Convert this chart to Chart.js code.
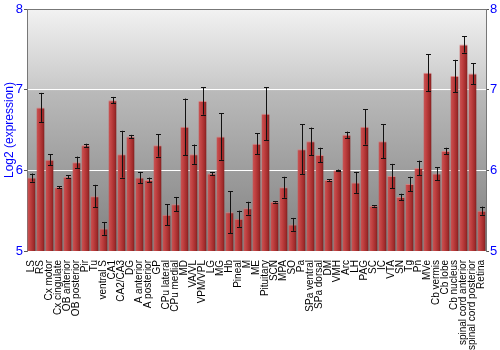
<!DOCTYPE html>
<html><head><meta charset="utf-8">
<script src="https://cdn.jsdelivr.net/npm/chart.js@4"></script>
<style>html,body{margin:0;padding:0;background:#fff}</style>
</head><body>
<canvas id="c" width="500" height="350"></canvas>
<script>
const categories = ["LS","RS","Cx motor","Cx cingulate","OB anterior","OB posterior","Pir","Tu","ventral S","CA1","CA2/CA3","DG","A anterior","A posterior","GP","CPu lateral","CPu medial","MD","VA/VL","VPM/VPL","LG","MG","Hb","Pineal","M","ME","Pituitary","SCN","MPA","SO","Pa","SPa ventral","SPa dorsal","DM","VMH","Arc","LH","PAG","SC","IC","VTA","SN","Tg","Pn","MVe","Cb vermis","Cb lobe","Cb nucleus","spinal cord anterior","spinal cord posterior","Retina"];
const values = [5.91,6.78,6.13,5.79,5.92,6.10,6.31,5.68,5.28,6.87,6.20,6.42,5.91,5.88,6.31,5.45,5.58,6.54,6.20,6.86,5.96,6.42,5.48,5.40,5.53,6.33,6.70,5.61,5.79,5.33,6.26,6.36,6.19,5.88,6.00,6.44,5.85,6.54,5.56,6.36,5.93,5.67,5.83,6.03,7.21,5.96,6.24,7.17,7.56,7.20,5.50];
const errors = [0.05,0.18,0.07,0.01,0.02,0.07,0.02,0.14,0.08,0.04,0.29,0.02,0.07,0.03,0.14,0.13,0.09,0.35,0.12,0.17,0.02,0.29,0.26,0.10,0.08,0.13,0.33,0.01,0.13,0.08,0.31,0.17,0.09,0.01,0.01,0.04,0.13,0.22,0.01,0.21,0.15,0.04,0.09,0.09,0.23,0.08,0.04,0.20,0.10,0.13,0.05];
const yMin = 5, yMax = 8;
const yTicks = [5,6,7,8];

const bgPlugin = {
  id:'bg',
  beforeDraw(chart){
    const {ctx, chartArea:a} = chart;
    if(!a) return;
    const y = chart.scales.y;
    const y7 = (y.getPixelForValue(7)-a.top)/(a.bottom-a.top);
    const g = ctx.createLinearGradient(0,a.top,0,a.bottom);
    g.addColorStop(0,'#f2f2f2');
    g.addColorStop(y7,'#c8c8c8');
    g.addColorStop(Math.min(1,y7+0.005),'#bababa');
    g.addColorStop(1,'#808080');
    ctx.save();
    ctx.fillStyle = g;
    ctx.fillRect(a.left,a.top,a.right-a.left,a.bottom-a.top);
    ctx.restore();
  },
  afterDraw(chart){
    const {ctx, chartArea:a} = chart;
    ctx.save();
    ctx.strokeStyle='#777';
    ctx.lineWidth=1;
    ctx.beginPath();
    ctx.moveTo(a.left,a.top+0.5);ctx.lineTo(a.right,a.top+0.5);
    ctx.stroke();
    ctx.restore();
  }
};

const errPlugin = {
  id:'err',
  afterDatasetsDraw(chart){
    const {ctx} = chart;
    const y = chart.scales.y;
    const meta = chart.getDatasetMeta(0);
    ctx.save();
    ctx.strokeStyle='#111';
    ctx.lineWidth=1;
    meta.data.forEach((bar,i)=>{
      const x = Math.round(bar.x)+0.5;
      const t = y.getPixelForValue(values[i]+errors[i]);
      const b = y.getPixelForValue(values[i]-errors[i]);
      ctx.beginPath();
      ctx.moveTo(x,t);ctx.lineTo(x,b);
      ctx.moveTo(x-2.5,Math.round(t)+0.5);ctx.lineTo(x+2.5,Math.round(t)+0.5);
      ctx.moveTo(x-2.5,Math.round(b)+0.5);ctx.lineTo(x+2.5,Math.round(b)+0.5);
      ctx.stroke();
    });
    ctx.restore();
  }
};

function barColor(c){
  const chart = c.chart;
  if(!chart.chartArea || c.dataIndex===undefined) return '#b03030';
  const x = chart.scales.x.getPixelForValue(c.dataIndex);
  const g = chart.ctx.createLinearGradient(x-4,0,x+4,0);
  g.addColorStop(0,'#c85656');
  g.addColorStop(0.35,'#c04040');
  g.addColorStop(0.8,'#9e2a2a');
  g.addColorStop(1,'#7e1c1c');
  return g;
}

new Chart(document.getElementById('c'),{
  type:'bar',
  data:{labels:categories,datasets:[{data:values,backgroundColor:barColor,borderColor:'rgba(225,120,120,0.8)',borderWidth:{top:1,left:0,right:0,bottom:0},borderSkipped:'bottom',barPercentage:0.9,categoryPercentage:1}]},
  options:{
    responsive:false,animation:false,
    layout:{padding:{top:9,left:0,right:0,bottom:0}},
    plugins:{legend:{display:false},tooltip:{enabled:false}},
    scales:{
      x:{
        grid:{display:false},border:{display:false},
        ticks:{autoSkip:false,minRotation:90,maxRotation:90,color:'#000',padding:1,font:{family:'Liberation Sans, Arial',size:10}},
        afterFit(s){s.height=99;}
      },
      y:{
        position:'left',min:yMin,max:yMax,
        afterBuildTicks(s){s.ticks=yTicks.map(v=>({value:v}));},
        ticks:{color:'#0000ff',padding:1,font:{family:'Liberation Sans, Arial',size:13}},
        grid:{color:(c)=>(c.tick&&(c.tick.value===6||c.tick.value===7))?'#ffffff':'rgba(0,0,0,0)',tickColor:'#555',tickLength:3,lineWidth:1},
        border:{display:true,color:'#777'},
        title:{display:true,text:'Log2 (expression)',color:'#0000ff',padding:{top:2,bottom:0},font:{family:'Liberation Sans, Arial',size:12}},
        afterFit(s){s.width=27;}
      },
      y2:{
        position:'right',min:yMin,max:yMax,
        afterBuildTicks(s){s.ticks=yTicks.map(v=>({value:v}));},
        ticks:{color:'#0000ff',padding:1,font:{family:'Liberation Sans, Arial',size:13}},
        grid:{drawOnChartArea:false,tickColor:'#555',tickLength:3},
        border:{display:true,color:'#777'},
        afterFit(s){s.width=14;}
      }
    }
  },
  plugins:[bgPlugin,errPlugin]
});
</script>
</body></html>
